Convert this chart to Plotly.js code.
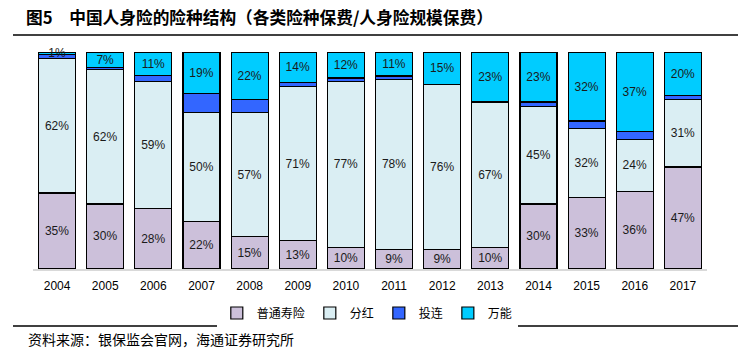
<!DOCTYPE html>
<html>
<head>
<meta charset="utf-8">
<script src="https://cdn.plot.ly/plotly-3.0.1.min.js"></script>
<style>html,body{margin:0;padding:0;background:#fff;}#chart{width:748px;height:355px;}</style>
</head>
<body>
<div id="chart"></div>
<script>
const years = ['2004','2005','2006','2007','2008','2009','2010','2011','2012','2013','2014','2015','2016','2017'];
const ordinaryLife = [35,30,28,22,15,13,10,9,9,10,30,33,36,47];
const participating = [62,62,59,50,57,71,77,78,76,67,45,32,24,31];
const unitLinked = [2,1,2.5,9,6,2,1.5,1.5,0,0,2,3.5,3.5,2];
const universal = [1,7,11,19,22,14,12,11,15,23,23,32,37,20];
const seriesNames = ['普通寿险','分红','投连','万能'];
const colors = ['#CCC0DA','#DAEEF3','#3366FF','#00CCFF'];

const labelFont = {family:'Liberation Sans, Arial, sans-serif', size:12, color:'#1a1a1a'};
function mk(vals, i, showText){
  return {
    type:'bar', x:years, y:vals, name:seriesNames[i],
    marker:{color:colors[i], line:{color:'#000', width:1.2}},
    text: showText ? vals.map(v=>v+'%') : undefined,
    textposition: showText ? 'inside' : 'none',
    insidetextanchor:'middle',
    textfont: labelFont,
    cliponaxis:false,
    hoverinfo:'x+y+name'
  };
}
const data = [
  mk(ordinaryLife,0,true),
  mk(participating,1,true),
  mk(unitLinked,2,false),
  mk(universal,3,true)
];
const cjk = '"Noto Sans CJK SC", sans-serif';
const layout = {
  width:748, height:355,
  margin:{l:33, r:41, t:52, b:86},
  barmode:'stack', barnorm:'percent', bargap:0.23,
  paper_bgcolor:'#fff', plot_bgcolor:'#fff',
  uniformtext:{minsize:12, mode:'show'},
  title:{text:'图5\u2003中国人身险的险种结构（各类险种保费/人身险规模保费）',
    x:26/748, xanchor:'left', xref:'container', y:1-18/355, yanchor:'middle', yref:'container',
    font:{family:cjk, size:16.7, weight:'bold', color:'#000'}},
  xaxis:{type:'category', showline:true, linecolor:'#d9d9d9', linewidth:1.5, ticks:'', ticklabelstandoff:5,
    tickfont:{family:'Liberation Sans, Arial, sans-serif', size:12, color:'#000'}, showgrid:false, fixedrange:true},
  yaxis:{range:[0,100], visible:false, showgrid:false, zeroline:false, fixedrange:true},
  showlegend:true,
  legend:{orientation:'h', x:0.496, xanchor:'center', y:(269-313)/217, yanchor:'middle',
    font:{family:cjk, size:12, color:'#000'}, itemwidth:30, traceorder:'normal', itemclick:false},
  shapes:[
    {type:'line', xref:'paper', yref:'paper', x0:(13-33)/674, x1:(738-33)/674, y0:(269-35)/217, y1:(269-35)/217, line:{color:'#000', width:1.5}},
    {type:'line', xref:'paper', yref:'paper', x0:(13-33)/674, x1:(738-33)/674, y0:(269-326)/217, y1:(269-326)/217, line:{color:'#000', width:1.5}}
  ],
  annotations:[
    {text:'资料来源：银保监会官网，海通证券研究所', xref:'paper', yref:'paper', x:(26-33)/674, xanchor:'left',
     y:(269-339)/217, yanchor:'middle', showarrow:false, font:{family:cjk, size:14, color:'#000'}}
  ]
};
Plotly.newPlot('chart', data, layout, {displayModeBar:false, staticPlot:true});
</script>
</body>
</html>
